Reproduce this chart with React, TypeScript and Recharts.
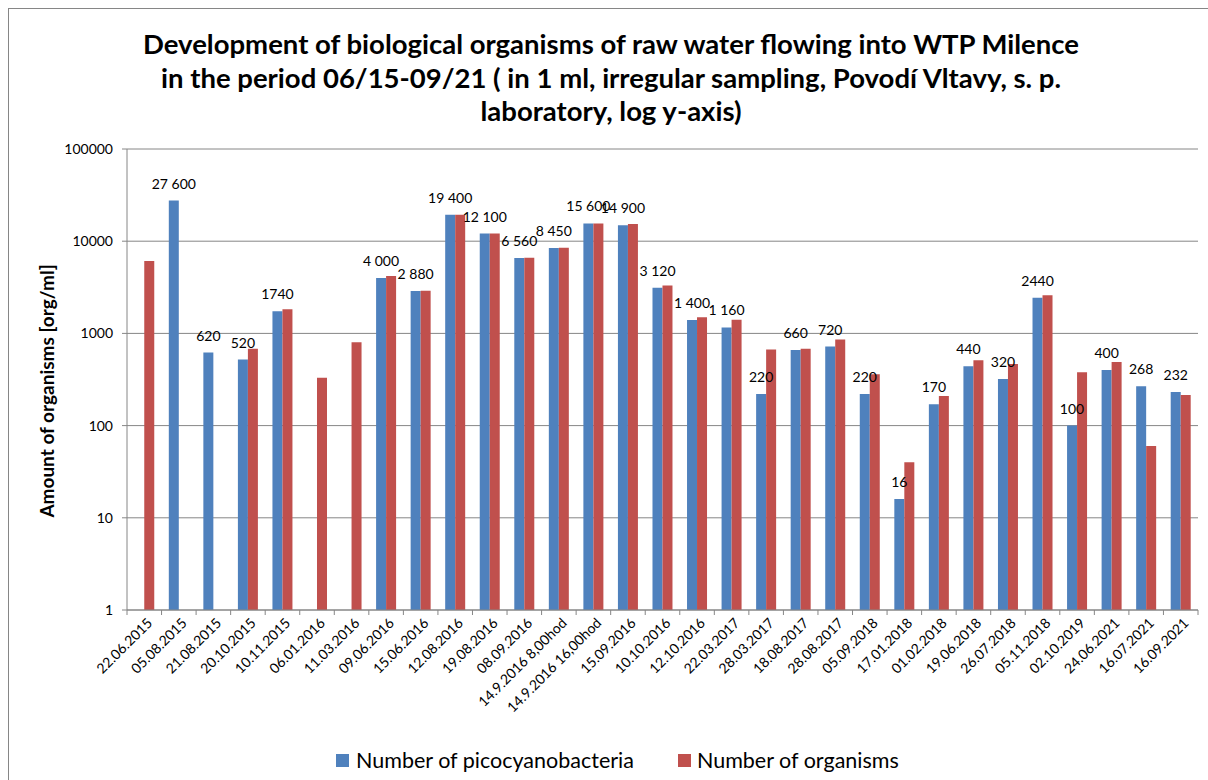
import React from 'react';
import { BarChart, Bar, XAxis, YAxis, CartesianGrid, Legend, LabelList } from 'recharts';

const dates = [
  '22.06.2015', '05.08.2015', '21.08.2015', '20.10.2015', '10.11.2015', '06.01.2016', '11.03.2016',
  '09.06.2016', '15.06.2016', '12.08.2016', '19.08.2016', '08.09.2016', '14.9.2016 8,00hod',
  '14.9.2016 16,00hod', '15.09.2016', '10.10.2016', '12.10.2016', '22.03.2017', '28.03.2017',
  '18.08.2017', '28.08.2017', '05.09.2018', '17.01.2018', '01.02.2018', '19.06.2018', '26.07.2018',
  '05.11.2018', '02.10.2019', '24.06.2021', '16.07.2021', '16.09.2021',
];

const picocyanobacteria = [
  null, 27600, 620, 520, 1740, null, null, 4000, 2880, 19400, 12100, 6560, 8450, 15600, 14900,
  3120, 1400, 1160, 220, 660, 720, 220, 16, 170, 440, 320, 2440, 100, 400, 268, 232,
];

const organisms = [
  6100, null, null, 680, 1830, 330, 800, 4200, 2900, 19400, 12100, 6600, 8500, 15600, 15400,
  3300, 1500, 1410, 670, 680, 860, 360, 40, 210, 510, 465, 2600, 380, 490, 60, 215,
];

// labels as printed in the source (mixed thousands formatting)
const picoLabels = [
  '', '27 600', '620', '520', '1740', '', '', '4 000', '2 880', '19 400', '12 100', '6 560', '8 450',
  '15 600', '14 900', '3 120', '1 400', '1 160', '220', '660', '720', '220', '16', '170', '440', '320',
  '2440', '100', '400', '268', '232',
];

const yTicks = [1, 10, 100, 1000, 10000, 100000];

const data = dates.map((d, i) => ({
  date: d,
  pico: picocyanobacteria[i],
  org: organisms[i],
  picoLabel: picoLabels[i],
}));

const W = 1199;
const H = 771;
const FONT = 'Lato, "Open Sans", sans-serif';
const AXIS = '#868686';
const BAND = 1071 / dates.length;

const XTick = (props: any) => {
  const { x, y, payload, index } = props;
  const ax = x + 5;
  const ay = y + 10;
  return (
    <g>
      <line x1={x - BAND / 2} y1={y} x2={x - BAND / 2} y2={y + 5} stroke={AXIS} />
      {index === dates.length - 1 && (
        <line x1={x + BAND / 2} y1={y} x2={x + BAND / 2} y2={y + 5} stroke={AXIS} />
      )}
      <text
        x={ax}
        y={ay}
        transform={`rotate(-45 ${ax} ${ay})`}
        textAnchor="end"
        dominantBaseline="central"
        fontSize={14}
        fontFamily={FONT}
        fill="#000"
      >
        {payload.value}
      </text>
    </g>
  );
};

const BarLabel = (props: any) => {
  const { x, y, width, value } = props;
  if (!value) return null;
  return (
    <text x={x + width / 2} y={y - 12} textAnchor="middle" fontSize={14} fontFamily={FONT} fill="#000">
      {value}
    </text>
  );
};

const LegendContent = () => (
  <div style={{ display: 'flex', alignItems: 'center', height: 28, paddingLeft: 327, fontFamily: FONT, fontSize: 21.5, color: '#000', whiteSpace: 'nowrap' }}>
    <span style={{ width: 13, height: 13, background: '#4F81BD', marginRight: 7 }} />
    <span style={{ marginRight: 44 }}>Number of picocyanobacteria</span>
    <span style={{ width: 13, height: 13, background: '#C0504D', marginRight: 6 }} />
    <span>Number of organisms</span>
  </div>
);

export default function App() {
  return (
    <div
      style={{
        position: 'absolute',
        left: 8,
        top: 8,
        width: 1210,
        height: 780,
        border: `1px solid ${AXIS}`,
        boxSizing: 'border-box',
        background: '#fff',
      }}
    >
      <div
        style={{
          position: 'absolute',
          left: 0,
          top: 18,
          width: 1204,
          textAlign: 'center',
          fontFamily: FONT,
          fontWeight: 'bold',
          fontSize: 27.5,
          lineHeight: '33.5px',
          color: '#000',
          whiteSpace: 'nowrap',
        }}
      >
        Development of biological organisms of raw water flowing into WTP Milence
        <br />
        in the period 06/15-09/21 ( in 1 ml, irregular sampling, Povodí Vltavy, s. p.
        <br />
        laboratory, log y-axis)
      </div>
      <BarChart
        width={W}
        height={H}
        data={data}
        margin={{ top: 140, right: 10, left: 0, bottom: 6 }}
        barCategoryGap="21%"
        barGap={0}
        style={{ position: 'absolute', left: 0, top: 0 }}
      >
        <CartesianGrid vertical={false} stroke={AXIS} />
        <XAxis
          dataKey="date"
          interval={0}
          height={136}
          tickSize={0}
          tickMargin={0}
          tickLine={false}
          axisLine={{ stroke: AXIS }}
          tick={<XTick />}
        />
        <YAxis
          scale="log"
          domain={[1, 100000]}
          allowDataOverflow
          ticks={yTicks}
          width={118}
          tickSize={5}
          tickMargin={9}
          axisLine={{ stroke: AXIS }}
          tickLine={{ stroke: AXIS }}
          tick={{ fill: '#000', fontSize: 14, fontFamily: FONT }}
          label={{
            content: () => (
              <text
                x={37}
                y={382}
                transform="rotate(-90 37 382)"
                textAnchor="middle"
                dominantBaseline="central"
                fontSize={19}
                fontWeight="bold"
                fontFamily={FONT}
                fill="#000"
              >
                Amount of organisms [org/ml]
              </text>
            ),
          }}
        />
        <Legend verticalAlign="bottom" content={<LegendContent />} wrapperStyle={{ left: 0, width: W, height: 28, bottom: 6 }} />
        <Bar dataKey="pico" name="Number of picocyanobacteria" fill="#4F81BD" isAnimationActive={false}>
          <LabelList dataKey="picoLabel" content={<BarLabel />} />
        </Bar>
        <Bar dataKey="org" name="Number of organisms" fill="#C0504D" isAnimationActive={false} />
      </BarChart>
    </div>
  );
}
